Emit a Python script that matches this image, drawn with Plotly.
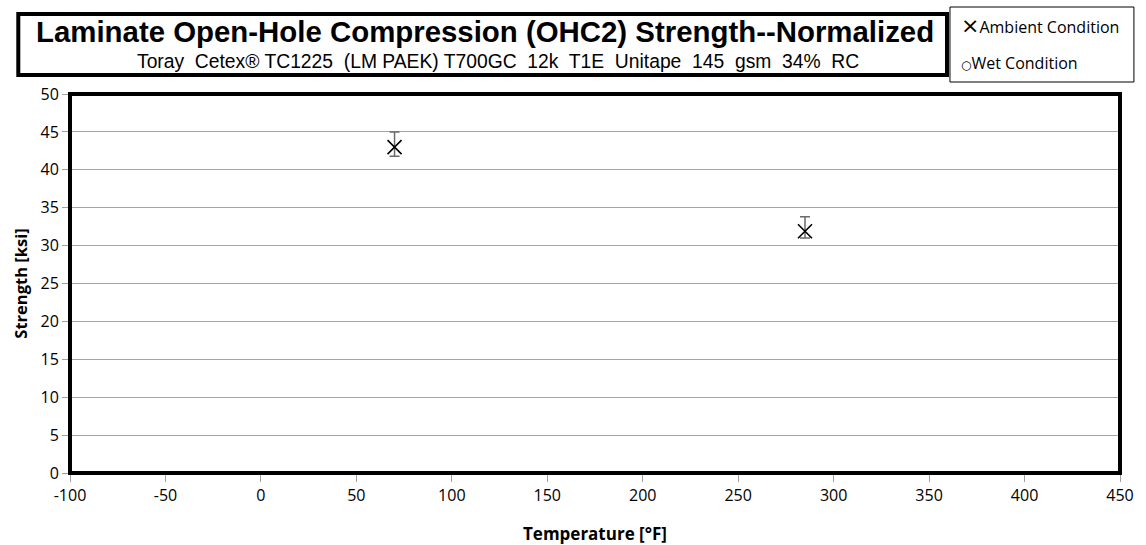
import plotly.graph_objects as go

# Data
temps_ambient = [70, 285]
strength_ambient = [43.0, 31.9]
err_plus = [2.0, 1.9]
err_minus = [1.2, 0.9]

x_ticks = [-100, -50, 0, 50, 100, 150, 200, 250, 300, 350, 400, 450]
y_ticks = [0, 5, 10, 15, 20, 25, 30, 35, 40, 45, 50]

title_text = "Laminate Open-Hole Compression (OHC2) Strength--Normalized"
subtitle_text = "Toray  Cetex\u00ae TC1225  (LM PAEK) T700GC  12k  T1E  Unitape  145  gsm  34%  RC"
legend_symbols = ["\u00d7", "\u25cb"]
legend_labels = ["Ambient Condition", "Wet Condition"]

W, H = 1146, 545
L, R, T, B = 70, 20, 94, 72
pw = W - L - R
ph = H - T - B

def px(x):
    return (x - L) / pw

def py(y):
    return (H - B - y) / ph

lab_font = "Open Sans, Noto Sans, sans-serif"
narrow_font = "Liberation Sans Narrow, Arial Narrow, Liberation Sans, Arial, sans-serif"

fig = go.Figure()
fig.add_trace(go.Scatter(
    x=temps_ambient, y=strength_ambient, mode="markers",
    name="Ambient Condition", showlegend=False,
    marker=dict(symbol="x-thin-open", size=14, color="black", line=dict(width=1.6, color="black")),
    error_y=dict(type="data", symmetric=False, array=err_plus, arrayminus=err_minus,
                 color="#6b6b6b", thickness=1.5, width=5),
))

annotations = [
    dict(text="<b>" + title_text + "</b>", xref="paper", yref="paper",
         x=px(487), y=py(32), xanchor="center", yanchor="middle", showarrow=False,
         font=dict(family=narrow_font, size=29.4, color="black")),
    dict(text=subtitle_text, xref="paper", yref="paper",
         x=px(500), y=py(61), xanchor="center", yanchor="middle", showarrow=False,
         font=dict(family=narrow_font, size=19.3, color="black")),
    dict(text="<b>Temperature [°F]</b>", xref="paper", yref="paper",
         x=px(598), y=py(533), xanchor="center", yanchor="middle", showarrow=False,
         font=dict(family=lab_font, size=17, color="black")),
]
sym_sizes = [22, 12]
for i, (sym, lab) in enumerate(zip(legend_symbols, legend_labels)):
    txt = ("<span style='font-family:DejaVu Sans;font-size:%dpx'>%s</span>%s"
           % (sym_sizes[i], sym, lab))
    annotations.append(dict(text=txt, xref="paper", yref="paper",
                            x=px(964), y=py(25 + 38 * i), xanchor="left", yanchor="middle",
                            showarrow=False,
                            font=dict(family=lab_font, size=16, color="black")))

fig.update_layout(
    width=W, height=H,
    margin=dict(l=L, r=R, t=T, b=B),
    paper_bgcolor="white", plot_bgcolor="white",
    showlegend=False,
    xaxis=dict(range=[-100, 450], tickvals=x_ticks, ticktext=[str(v) for v in x_ticks],
               showgrid=False, zeroline=False, showline=False,
               ticks="outside", ticklen=8, tickcolor="#A0A0A0",
               tickfont=dict(family=lab_font, size=16, color="black")),
    yaxis=dict(range=[0, 50], tickvals=y_ticks, ticktext=[str(v) for v in y_ticks],
               showgrid=True, gridcolor="#A6A6A6", gridwidth=1.2, zeroline=False, showline=False,
               ticks="outside", ticklen=7, tickcolor="#A0A0A0",
               tickfont=dict(family=lab_font, size=16, color="black"),
               title=dict(text="<b>Strength [ksi]</b>", standoff=8,
                          font=dict(family=lab_font, size=16.5, color="black"))),
    shapes=[
        dict(type="rect", xref="paper", yref="paper", x0=0, x1=1, y0=0, y1=1,
             line=dict(color="black", width=4), fillcolor="rgba(0,0,0,0)", layer="above"),
        dict(type="rect", xref="paper", yref="paper", x0=px(18), x1=px(952), y0=py(75), y1=py(14),
             line=dict(color="black", width=4), fillcolor="white"),
        dict(type="rect", xref="paper", yref="paper", x0=px(955), x1=px(1140), y0=py(82), y1=py(7),
             line=dict(color="black", width=1), fillcolor="white"),
    ],
    annotations=annotations,
)

fig.write_html(
    "out.html",
    config={"displayModeBar": False},
    post_script=("document.documentElement.style.margin='0';"
                 "document.body.style.margin='0';"
                 "document.documentElement.style.overflow='hidden';"
                 "document.body.style.overflow='hidden';"),
)
